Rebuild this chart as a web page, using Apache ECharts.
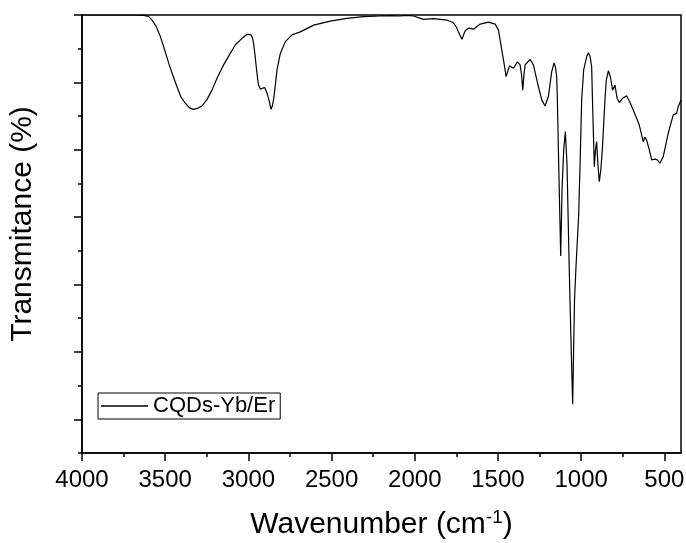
<!DOCTYPE html>
<html>
<head>
<meta charset="utf-8">
<script src="https://cdn.jsdelivr.net/npm/echarts@6/dist/echarts.min.js"></script>
<style>
  html, body { margin: 0; padding: 0; background: #fff; }
  #chart { width: 686px; height: 543px; }
</style>
</head>
<body>
<div id="chart"></div>
<script>
// FTIR spectrum (wavenumber in cm-1, transmittance in arbitrary units)
const wavenumber = [
  4000, 3700, 3630, 3600, 3579, 3555, 3529, 3505, 3479, 3455, 3429, 3405, 3379, 3355, 3333,
  3305, 3279, 3250, 3219, 3185, 3149, 3115, 3079, 3040, 3008, 2984, 2975, 2969, 2960, 2953,
  2945, 2939, 2928, 2918, 2903, 2895, 2888, 2875, 2864, 2856, 2849, 2838, 2828, 2808, 2778,
  2738, 2688, 2608, 2508, 2408, 2308, 2208, 2150, 2088, 2050, 2008, 1948, 1888, 1807, 1768,
  1750, 1738, 1717, 1697, 1677, 1647, 1607, 1557, 1517, 1497, 1477, 1462, 1451, 1431, 1407,
  1383, 1367, 1358, 1351, 1344, 1337, 1307, 1287, 1257, 1237, 1217, 1197, 1177, 1163, 1155,
  1147, 1143, 1133, 1123, 1115, 1105, 1095, 1085, 1072, 1062, 1051, 1040, 1030, 1023, 1015,
  1007, 997, 985, 967, 957, 947, 937, 932, 921, 914, 907, 899, 891, 882, 873,
  857, 849, 836, 823, 811, 797, 784, 771, 751, 727, 707, 687, 651, 627, 617,
  607, 590, 576, 557, 542, 527, 507, 477, 447, 427, 415, 400
]
const transmittance = [
  130, 130, 129.9, 129.6, 128.5, 126.7, 123.6, 119.9, 115.7, 112.2, 108.7, 105.6, 103.8, 102.5, 102.0,
  102.3, 103.0, 104.8, 107.7, 111.6, 115.2, 118.1, 121.1, 123.0, 124.3, 124.1, 123.2, 121.6, 118.1, 114.7,
  111.3, 109.2, 108.0, 107.5, 108.5, 107.7, 106.8, 104.5, 102.0, 103.0, 104.8, 109.2, 113.7, 118.6, 122.1,
  124.1, 125.0, 127.0, 128.2, 129.0, 129.5, 129.7, 129.8, 129.7, 129.9, 129.7, 128.7, 128.9, 128.5, 127.7,
  126.4, 125.0, 122.8, 125.3, 126.1, 125.8, 127.3, 127.9, 127.3, 125.5, 119.6, 115.2, 111.7, 114.9, 114.2,
  116.1, 115.2, 112.2, 107.7, 112.2, 115.2, 116.8, 115.2, 108.7, 104.8, 103.0, 105.8, 113.2, 115.8, 114.6,
  111.7, 104.8, 81.0, 58.5, 78.1, 89.9, 95.4, 85.5, 55.3, 35.0, 14.5, 45.4, 56.4, 56.8, 70.6,
  85.0, 104.8, 113.7, 117.6, 118.8, 117.8, 114.7, 104.8, 85.0, 89.9, 92.4, 85.5, 80.5, 84.0, 89.9,
  104.8, 110.7, 113.5, 111.3, 107.7, 109.2, 105.3, 104.0, 105.3, 106.0, 104.1, 101.8, 97.4, 92.4, 93.8,
  92.9, 89.9, 87.0, 87.2, 87.0, 86.0, 87.9, 94.9, 100.3, 100.8, 103.0, 104.8
]
const xMajorTicks = [4000, 3500, 3000, 2500, 2000, 1500, 1000, 500]
const xMinorTicks = [3750, 3250, 2750, 2250, 1750, 1250, 750]
const yMajorTicks = [10, 30, 50, 70, 90, 110, 130]
const yMinorTicks = [0, 20, 40, 60, 80, 100, 120]
const seriesName = 'CQDs-Yb/Er'

const font = "'Liberation Sans', Arial, sans-serif"
const black = '#000'

const chart = echarts.init(document.getElementById('chart'))

const baseX = {
  type: 'value',
  inverse: true,
  min: 400,
  max: 4000,
  position: 'bottom',
  splitLine: { show: false }
}
const baseY = {
  type: 'value',
  min: 0,
  max: 130,
  position: 'left',
  splitLine: { show: false }
}

const option = {
  backgroundColor: '#fff',
  animation: false,
  grid: {
    left: 82,
    right: 5,
    top: 15,
    bottom: 90,
    show: true,
    borderColor: black,
    borderWidth: 1.5,
    outerBoundsMode: 'none'
  },
  legend: {
    left: 98,
    top: 393,
    padding: [2, 5, 2, 3],
    borderColor: black,
    borderWidth: 1,
    itemWidth: 47,
    itemHeight: 1.5,
    itemGap: 5,
    icon: 'rect',
    itemStyle: { color: black, borderWidth: 0 },
    textStyle: { fontFamily: font, fontSize: 22, color: black, lineHeight: 21 },
    data: [seriesName]
  },
  xAxis: [
    {
      ...baseX,
      axisLine: { onZero: false, lineStyle: { color: black, width: 1.5 } },
      axisTick: { customValues: xMajorTicks, length: 8, lineStyle: { color: black, width: 1.5 } },
      axisLabel: {
        customValues: xMajorTicks,
        formatter: (v) => String(v),
        fontFamily: font,
        fontSize: 24,
        color: black,
        margin: 15
      },
      name: '{a|Wavenumber (cm}{b|-1}{a|)}',
      nameLocation: 'middle',
      nameGap: 55,
      nameTextStyle: {
        rich: {
          a: { fontFamily: font, fontSize: 30, color: black },
          b: { fontFamily: font, fontSize: 19, color: black, padding: [0, 0, 15, 0] }
        }
      }
    },
    {
      ...baseX,
      axisLine: { show: false, onZero: false },
      axisTick: { customValues: xMinorTicks, length: 4, lineStyle: { color: black, width: 1.5 } },
      axisLabel: { show: false }
    }
  ],
  yAxis: [
    {
      ...baseY,
      axisLine: { onZero: false, lineStyle: { color: black, width: 1.5 } },
      axisTick: { customValues: yMajorTicks, length: 8, lineStyle: { color: black, width: 1.5 } },
      axisLabel: { show: false },
      name: 'Transmitance (%)',
      nameLocation: 'middle',
      nameGap: 44,
      nameTextStyle: { fontFamily: font, fontSize: 30, color: black, padding: [0, 0, 0, 20] }
    },
    {
      ...baseY,
      axisLine: { show: false, onZero: false },
      axisTick: { customValues: yMinorTicks, length: 4, lineStyle: { color: black, width: 1.5 } },
      axisLabel: { show: false }
    }
  ],
  series: [
    {
      name: seriesName,
      type: 'line',
      xAxisIndex: 0,
      yAxisIndex: 0,
      showSymbol: false,
      symbol: 'none',
      lineStyle: { color: black, width: 1.2 },
      itemStyle: { color: black },
      data: wavenumber.map((w, i) => [w, transmittance[i]])
    }
  ]
}

chart.setOption(option)
</script>
</body>
</html>
